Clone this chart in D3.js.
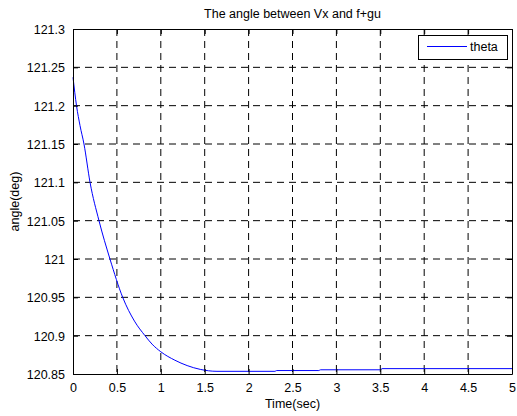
<!DOCTYPE html>
<html><head><meta charset="utf-8">
<script src="https://cdn.jsdelivr.net/npm/d3@7"></script>
<style>body{margin:0;background:#fff}svg{display:block}text{font-family:"Liberation Sans",Arial,sans-serif}</style>
</head><body>
<svg id="c" width="517" height="416"></svg>
<script>
const time  = [0, 0.04, 0.08, 0.125, 0.194, 0.296, 0.421, 0.566, 0.7, 0.82, 0.9, 1.0, 1.16, 1.3, 1.45, 1.64, 2.3, 2.32, 2.8, 2.82, 3.5, 3.52, 5];
const theta = [121.237, 121.2, 121.174, 121.15, 121.1, 121.05, 121.0, 120.95, 120.919, 120.9, 120.889, 120.879, 120.868, 120.861, 120.856, 120.8535, 120.8535, 120.8545, 120.8545, 120.8555, 120.8555, 120.857, 120.857];
const xTicks = [0, 0.5, 1, 1.5, 2, 2.5, 3, 3.5, 4, 4.5, 5];
const yTicks = [120.85, 120.9, 120.95, 121, 121.05, 121.1, 121.15, 121.2, 121.25, 121.3];
const title = "The angle between Vx and f+gu";
const xLabel = "Time(sec)", yLabel = "angle(deg)", seriesName = "theta";

const svg = d3.select("#c");
const L = 73, R = 512, T = 29, B = 374;
const x = d3.scaleLinear().domain([0, 5]).range([L, R]);
const y = d3.scaleLinear().domain([120.85, 121.3]).range([B, T]);
const fs = 12.5;

// grid
const g = svg.append("g");
g.selectAll(".vg").data(xTicks.slice(1, -1)).join("line")
  .attr("x1", d => x(d)).attr("x2", d => x(d)).attr("y1", T).attr("y2", B)
  .attr("stroke", "#000").attr("stroke-width", 1).attr("stroke-dasharray", "7,5");
g.selectAll(".hg").data(yTicks.slice(1, -1)).join("line")
  .attr("x1", L).attr("x2", R).attr("y1", d => y(d)).attr("y2", d => y(d))
  .attr("stroke", "#000").attr("stroke-width", 1).attr("stroke-dasharray", "7,5");

// line
svg.append("path").datum(time.map((t, i) => [t, theta[i]]))
  .attr("fill", "none").attr("stroke", "#0000ff").attr("stroke-width", 1)
  .attr("d", d3.line().x(d => x(d[0])).y(d => y(d[1])).curve(d3.curveMonotoneX));

// axes
const ax = svg.append("g").attr("transform", `translate(0,${B})`)
  .call(d3.axisBottom(x).tickValues(xTicks).tickSizeInner(-5).tickSizeOuter(0).tickPadding(9).tickFormat(d3.format("")));
const ay = svg.append("g").attr("transform", `translate(${L},0)`)
  .call(d3.axisLeft(y).tickValues(yTicks).tickSizeInner(-5).tickSizeOuter(0).tickPadding(8).tickFormat(d3.format("")));
const axT = svg.append("g").attr("transform", `translate(0,${T})`)
  .call(d3.axisTop(x).tickValues(xTicks).tickSizeInner(-5).tickSizeOuter(0).tickFormat(""));
const ayR = svg.append("g").attr("transform", `translate(${R},0)`)
  .call(d3.axisRight(y).tickValues(yTicks).tickSizeInner(-5).tickSizeOuter(0).tickFormat(""));
[ax, ay, axT, ayR].forEach(a => {
  a.select(".domain").attr("stroke", "#000").attr("stroke-width", 1);
  a.selectAll("line").attr("stroke", "#000");
  a.selectAll("text").attr("font-size", fs).attr("fill", "#000").attr("font-family", '"Liberation Sans",Arial,sans-serif');
});
ay.selectAll("text").attr("dy", "0.35em");

// labels
svg.append("text").attr("x", (L + R) / 2).attr("y", 18).attr("text-anchor", "middle")
  .attr("font-size", fs).text(title);
svg.append("text").attr("x", (L + R) / 2).attr("y", 408).attr("text-anchor", "middle")
  .attr("font-size", fs).text(xLabel);
svg.append("text").attr("transform", `translate(19,${(T + B) / 2}) rotate(-90)`).attr("text-anchor", "middle")
  .attr("font-size", fs).text(yLabel);

// legend
const lg = svg.append("g");
lg.append("rect").attr("x", 418.5).attr("y", 35.5).attr("width", 89).attr("height", 24)
  .attr("fill", "#fff").attr("stroke", "#000").attr("stroke-width", 1);
lg.append("line").attr("x1", 427).attr("x2", 467).attr("y1", 46.5).attr("y2", 46.5)
  .attr("stroke", "#0000ff").attr("stroke-width", 1);
lg.append("text").attr("x", 470).attr("y", 51).attr("font-size", fs).text(seriesName);
</script>
</body></html>
